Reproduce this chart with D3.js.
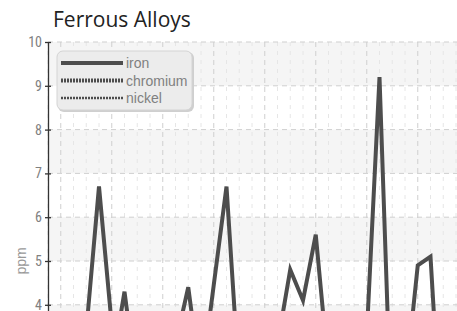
<!DOCTYPE html>
<html lang="en">
<head>
<meta charset="UTF-8">
<title>Ferrous Alloys</title>
<style>
  body { margin: 0; padding: 0; background: #fff; overflow: hidden; }
  .title { font-family: "Open Sans", sans-serif; font-size: 21px; fill: #222; }
  .axis text { font-family: "Liberation Sans Narrow", "Roboto Condensed", sans-serif; font-size: 14px; fill: #808080; }
  .axis path, .axis line { stroke: #333; stroke-width: 1.3px; }
  .ylabel { font-family: "Liberation Sans Narrow", sans-serif; font-size: 14px; fill: #999; }
  .major { stroke: #cfcfcf; stroke-dasharray: 5,4; }
  .minor { stroke: #e6e6e6; stroke-dasharray: 4,5; }
  .legend text { font-family: "Liberation Sans Narrow", sans-serif; font-size: 14px; fill: #808080; }
</style>
</head>
<body>
<div id="chart"></div>
<script src="https://d3js.org/d3.v7.min.js"></script>
<script>
// sample positions (shared by all series)
const sampleX = [0, 1, 2, 3, 4, 5.2, 6, 7, 8, 9, 10, 11, 12, 13, 14, 15, 16, 17,
  18, 19, 20, 21, 22, 23, 24, 25, 26, 27, 28, 29, 30, 31, 32, 33, 34];
const iron = [2.6, 1.9, 3.0, 3.4, 6.7, 2.9, 4.3, 2.1, 1.6, 2.4, 3.1, 4.4, 2.2, 4.45,
  6.7, 2.2, 1.4, 2.6, 3.1, 4.8, 4.1, 5.6, 2.5, 1.8, 2.9, 3.3, 9.2, 0.7, 2.1, 4.9, 5.1,
  0.2, 1.2, 2.7, 3.2];
const chromium = [1.2, 1.5, 1.1, 1.8, 2.4, 1.6, 2.0, 1.3, 0.9, 1.4, 1.7, 2.2, 1.5, 2.6,
  3.1, 1.8, 1.0, 1.3, 1.9, 2.4, 2.1, 2.8, 1.6, 1.2, 1.5, 1.9, 3.4, 1.1, 1.4, 2.5, 2.7,
  0.8, 1.0, 1.6, 1.9];
const nickel = [0.6, 0.8, 0.5, 0.9, 1.3, 0.7, 1.0, 0.6, 0.4, 0.7, 0.9, 1.1, 0.8, 1.4,
  1.6, 0.9, 0.5, 0.7, 1.0, 1.2, 1.1, 1.5, 0.8, 0.6, 0.8, 1.0, 1.8, 0.5, 0.7, 1.3, 1.4,
  0.4, 0.5, 0.8, 1.0];
const seriesNames = ["iron", "chromium", "nickel"];
const yTicks = [0, 1, 2, 3, 4, 5, 6, 7, 8, 9, 10];

const margin = {top: 42, left: 48};
const plotW = 816, plotH = 438;
const width = 900, height = 540;

const svg = d3.select("#chart").append("svg")
    .attr("width", width)
    .attr("height", height);

const x = d3.scaleLinear().domain([0, 64]).range([0, plotW]);
const y = d3.scaleLinear().domain([0, 10]).range([plotH, 0]);

svg.append("text")
    .attr("class", "title")
    .attr("x", 53)
    .attr("y", 27)
    .text("Ferrous Alloys");

const g = svg.append("g").attr("transform", `translate(${margin.left},${margin.top})`);

// alternating bands
g.selectAll("rect.band")
    .data(yTicks.slice(0, -1).filter(d => d % 2 === 1))
    .enter().append("rect")
    .attr("x", 0)
    .attr("width", plotW)
    .attr("y", d => y(d + 1))
    .attr("height", d => y(d) - y(d + 1))
    .attr("fill", "#f5f5f5");

// minor vertical grid
const minorX = d3.range(0, 65).filter(d => (d - 1) % 4 !== 0);
g.selectAll("line.minor")
    .data(minorX)
    .enter().append("line")
    .attr("class", "minor")
    .attr("x1", d => x(d)).attr("x2", d => x(d))
    .attr("y1", 0).attr("y2", plotH);

// major grid
const majorX = d3.range(1, 65, 4);
g.selectAll("line.vmajor")
    .data(majorX)
    .enter().append("line")
    .attr("class", "major")
    .attr("x1", d => x(d)).attr("x2", d => x(d))
    .attr("y1", 0).attr("y2", plotH);
g.selectAll("line.hmajor")
    .data(yTicks)
    .enter().append("line")
    .attr("class", "major")
    .attr("x1", 0).attr("x2", plotW)
    .attr("y1", d => y(d)).attr("y2", d => y(d));

// lines
const line = d3.line().x((d, i) => x(sampleX[i])).y(d => y(d));
const styles = [
    {data: iron, width: 4, dash: null},
    {data: chromium, width: 4, dash: "2,1"},
    {data: nickel, width: 2.5, dash: "2,1"}
];
styles.slice().reverse().forEach(s => {
    g.append("path")
        .datum(s.data)
        .attr("fill", "none")
        .attr("stroke", "#4d4d4d")
        .attr("stroke-width", s.width)
        .attr("stroke-linejoin", "miter")
        .attr("stroke-dasharray", s.dash)
        .attr("d", line);
});

// y axis
const yAxis = d3.axisLeft(y).tickValues(yTicks).tickSize(3).tickSizeOuter(0).tickPadding(3);
const ya = g.append("g").attr("class", "axis").call(yAxis);
ya.selectAll(".tick line").attr("x1", 3);

svg.append("text")
    .attr("class", "ylabel")
    .attr("transform", `translate(26,${margin.top + plotH / 2}) rotate(-90)`)
    .attr("text-anchor", "middle")
    .text("ppm");

// legend
const legend = svg.append("g").attr("class", "legend");
legend.append("rect")
    .attr("x", 58).attr("y", 52).attr("width", 136).attr("height", 60)
    .attr("rx", 6).attr("fill", "#cfcfcf");
legend.append("rect")
    .attr("x", 57).attr("y", 51).attr("width", 135).attr("height", 59)
    .attr("rx", 6).attr("fill", "#ececec").attr("stroke", "#d4d4d4");
const rowY = [63, 80.5, 98];
seriesNames.forEach((name, i) => {
    legend.append("line")
        .attr("x1", 61).attr("x2", 123)
        .attr("y1", rowY[i]).attr("y2", rowY[i])
        .attr("stroke", "#4d4d4d")
        .attr("stroke-width", styles[i].width)
        .attr("stroke-dasharray", styles[i].dash);
    legend.append("text")
        .attr("x", 126).attr("y", rowY[i] + 5)
        .text(name);
});
</script>
</body>
</html>
